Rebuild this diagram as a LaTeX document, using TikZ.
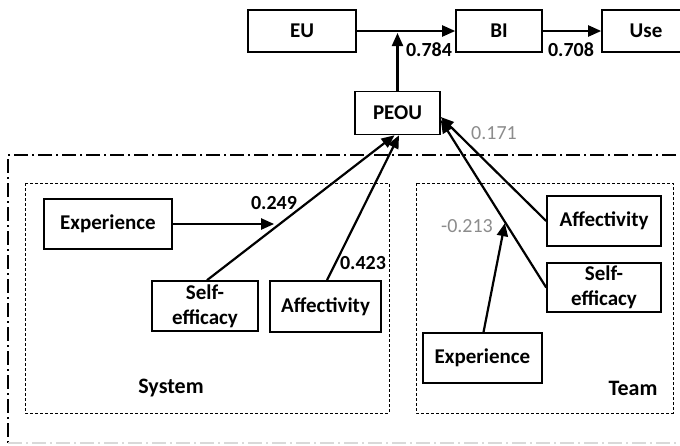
\documentclass[tikz,border=0pt]{standalone}
\usepackage{fontspec}
\setmainfont{Carlito}
\usetikzlibrary{arrows.meta}
\definecolor{lblgrey}{HTML}{8C8C8C}
\tikzset{
  box/.style={draw, line width=1.6pt, inner sep=0pt, align=center,
    font=\fontsize{21}{25}\selectfont\bfseries},
  conn/.style={line width=2.2pt, -{Triangle[length=13pt,width=11pt]}},
  plain/.style={line width=2.2pt},
  blab/.style={font=\fontsize{20}{22}\selectfont\bfseries, inner sep=0pt},
  glab/.style={font=\fontsize{20}{22}\selectfont, text=lblgrey, inner sep=0pt},
  grouplab/.style={font=\fontsize{22}{24}\selectfont\bfseries, inner sep=0pt},
  groupbox/.style={line width=0.8pt, dash pattern=on 3pt off 2pt},
  outerline/.style={line width=1.6pt, dash pattern=on 14pt off 4pt on 2pt off 4pt}
}
\begin{document}
\begin{tikzpicture}[x=1pt,y=1pt]
\useasboundingbox (0,0) rectangle (680,-445);
\clip (0,0) rectangle (680,-445);

% outer dash-dot frame
\draw[outerline] (700,-155) -- (8,-155) -- (8,-443);
\draw[outerline, color=black!15] (8,-443) -- (700,-443);

% group boxes
\draw[groupbox] (25,-183) rectangle (389,-413);
\draw[groupbox] (416,-183) rectangle (673,-413);

% nodes
\node[box, minimum width=108pt, minimum height=42pt] (eu) at (302,-31) {EU};
\node[box, minimum width=86pt, minimum height=42pt] (bi) at (499,-31) {BI};
\node[box, minimum width=88pt, minimum height=42pt] (use) at (646,-31) {Use};
\node[box, minimum width=85pt, minimum height=43pt] (peou) at (397.5,-113) {PEOU};

\node[box, minimum width=128pt, minimum height=50pt] (sexp) at (108,-224) {Experience};
\node[box, minimum width=106pt, minimum height=50pt] (sse) at (205,-306) {Self-\\efficacy};
\node[box, minimum width=111pt, minimum height=51pt] (saff) at (325.5,-306.5) {Affectivity};

\node[box, minimum width=114pt, minimum height=50pt] (taff) at (604,-221) {Affectivity};
\node[box, minimum width=114pt, minimum height=49pt] (tse) at (604,-287.5) {Self-\\efficacy};
\node[box, minimum width=119pt, minimum height=50pt] (texp) at (482.5,-358) {Experience};

\node[grouplab] (syslab) at (171,-388) {System};
\node[grouplab] (teamlab) at (633,-388) {Team};

% top chain
\draw[conn] (eu) -- (bi);
\draw[conn] (bi) -- (use);
\coordinate (j) at (peou.north |- eu.east);
\draw[conn] (peou.north) -- ([yshift=-2pt]j);

% system paths
\draw[conn] ([xshift=2pt]sse.north) -- coordinate[pos=0.39] (ssemid) ([xshift=-3pt]peou.south);
\draw[conn] ([xshift=1.5pt]saff.north) -- ([xshift=1.5pt]peou.south);
\draw[conn, shorten >=6pt] (sexp.east) -- (sexp.east -| ssemid);

% team paths
\draw[conn] (taff.west) -- ([yshift=-4pt]peou.east);
\draw[conn] (tse.west) -- coordinate[pos=0.39] (tsemid) ([yshift=-7pt]peou.east);
\draw[conn, shorten >=1pt] ([xshift=1pt]texp.north) -- (tsemid);

% labels
\node[blab] (l784) at (429,-50) {0.784};
\node[blab] (l708) at (571,-50) {0.708};
\node[glab] (l171) at (494,-133) {0.171};
\node[blab] (l249) at (274,-203) {0.249};
\node[blab] (l423) at (363,-263) {0.423};
\node[glab] (l213) at (467,-226) {-0.213};
\end{tikzpicture}
\end{document}
